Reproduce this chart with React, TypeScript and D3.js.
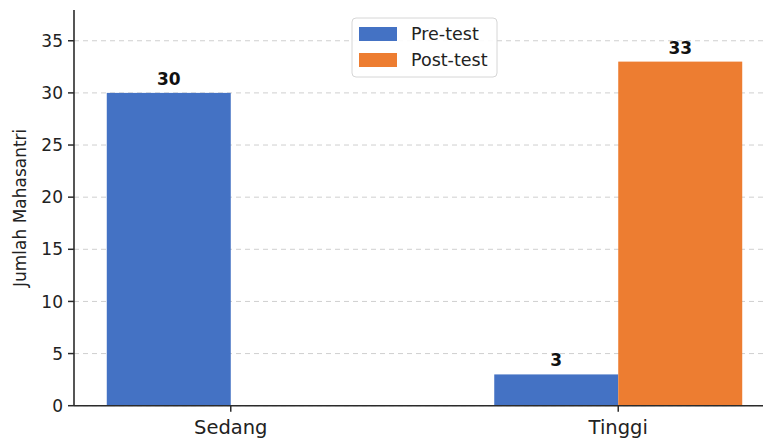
import * as d3 from "d3";

const categories = ["Sedang", "Tinggi"];
const preTest = [30, 3];
const postTest = [0, 33];
const yTicks = [0, 5, 10, 15, 20, 25, 30, 35];
const seriesNames = ["Pre-test", "Post-test"];
const seriesColors = ["#4472C4", "#ED7D31"];

const W = 763;
const H = 438;
const FONT = "DejaVu Sans, sans-serif";

export default function App() {
  const barW = 0.32;
  const pad = 0.05 * (categories.length - 1 + 2 * barW);
  const x = d3
    .scaleLinear()
    .domain([-barW - pad, categories.length - 1 + barW + pad])
    .range([75, 774]);
  const yMax = d3.max([...preTest, ...postTest])! * 1.15;
  const y = d3.scaleLinear().domain([0, yMax]).range([405.7, 10]);

  const series = [preTest, postTest];
  const axisColor = "#2b2b2b";

  return (
    <div style={{ position: "fixed", left: 0, top: 0 }}>
      <svg width={W} height={H} style={{ display: "block", background: "#fff" }} fontFamily={FONT}>
        {/* grid */}
        {yTicks.map((t) => (
          <line
            key={"g" + t}
            x1={74}
            x2={W}
            y1={y(t)}
            y2={y(t)}
            stroke="#cfcfcf"
            strokeWidth={1}
            strokeDasharray="5,4"
          />
        ))}

        {/* bars */}
        {series.map((vals, si) =>
          vals.map((v, ci) => {
            const x0 = si === 0 ? x(ci - barW) : x(ci);
            const x1 = si === 0 ? x(ci) : x(ci + barW);
            return (
              <rect
                key={`b${si}-${ci}`}
                x={x0}
                y={y(v)}
                width={x1 - x0}
                height={y(0) - y(v)}
                fill={seriesColors[si]}
              />
            );
          })
        )}

        {/* value labels */}
        {series.map((vals, si) =>
          vals.map((v, ci) =>
            v > 0 ? (
              <text
                key={`l${si}-${ci}`}
                x={x(si === 0 ? ci - barW / 2 : ci + barW / 2)}
                y={y(v) - 8}
                textAnchor="middle"
                fontSize={17}
                fontWeight="bold"
                fill="#111"
              >
                {v}
              </text>
            ) : null
          )
        )}

        {/* y axis */}
        <line x1={74} x2={74} y1={y.range()[1]} y2={y(0)} stroke={axisColor} strokeWidth={1.6} />
        {yTicks.map((t) => (
          <g key={"t" + t}>
            <line x1={68} x2={74} y1={y(t)} y2={y(t)} stroke={axisColor} strokeWidth={1.5} />
            <text x={63} y={y(t)} dy="0.36em" textAnchor="end" fontSize={17} fill="#222">
              {t}
            </text>
          </g>
        ))}

        {/* x axis */}
        <line x1={74} x2={W} y1={y(0)} y2={y(0)} stroke={axisColor} strokeWidth={1.6} />
        {categories.map((c, ci) => (
          <g key={"c" + c}>
            <line x1={x(ci)} x2={x(ci)} y1={y(0)} y2={y(0) + 6} stroke={axisColor} strokeWidth={1.5} />
            <text x={x(ci)} y={y(0) + 28} textAnchor="middle" fontSize={19.5} fill="#222">
              {c}
            </text>
          </g>
        ))}

        {/* y label */}
        <text
          transform={`translate(26,${(y.range()[0] + y.range()[1]) / 2}) rotate(-90)`}
          textAnchor="middle"
          fontSize={17}
          fill="#222"
        >
          Jumlah Mahasantri
        </text>

        {/* legend */}
        <g>
          <rect x={352} y={18} width={145} height={59} rx={4} fill="#fff" fillOpacity={0.9} stroke="#d6d6d6" />
          {seriesNames.map((n, i) => (
            <g key={n}>
              <rect x={359} y={27 + i * 26} width={38} height={14} fill={seriesColors[i]} />
              <text x={411} y={40 + i * 26} fontSize={17.5} fill="#222">
                {n}
              </text>
            </g>
          ))}
        </g>
      </svg>
    </div>
  );
}
